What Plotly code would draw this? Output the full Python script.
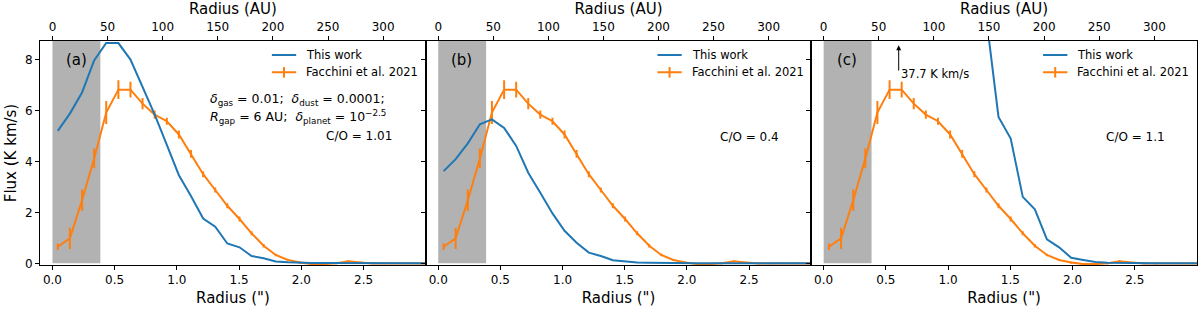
import plotly.graph_objects as go

# ---------------- data ----------------
radius_arcsec = [0.043, 0.140, 0.238, 0.335, 0.432, 0.530, 0.627, 0.724, 0.821, 0.919,
                 1.016, 1.113, 1.211, 1.308, 1.405, 1.503, 1.600, 1.697, 1.794, 1.892,
                 1.989, 2.086, 2.184, 2.281, 2.378, 2.476, 2.573, 2.670, 2.767, 2.865,
                 2.962, 3.059]

facchini_flux = [0.65, 0.98, 2.48, 4.12, 5.92, 6.82, 6.82, 6.27, 5.84, 5.58,
                 5.06, 4.30, 3.50, 2.88, 2.26, 1.74, 1.18, 0.69, 0.33, 0.13,
                 0.03, -0.03, -0.03, 0.00, 0.08, 0.03, -0.01, -0.01, 0.00, 0.00,
                 0.00, 0.00]
facchini_err = [0.13, 0.42, 0.42, 0.39, 0.45, 0.37, 0.31, 0.22, 0.16, 0.14,
                0.16, 0.15, 0.12, 0.10, 0.10, 0.10, 0.08, 0.07, 0.05, 0.04,
                0.04, 0.04, 0.04, 0.04, 0.04, 0.03, 0.03, 0.03, 0.03, 0.03,
                0.03, 0.03]

model_a = [5.20, 5.88, 6.71, 7.97, 8.65, 8.65, 8.00, 6.92, 5.85, 4.65,
           3.46, 2.64, 1.76, 1.44, 0.78, 0.63, 0.29, 0.20, 0.07, 0.04,
           0.02, 0.01, 0.01, 0.01, 0.01, 0.00, 0.00, 0.00, 0.00, 0.00,
           0.00, 0.00]
model_b = [3.62, 4.09, 4.71, 5.46, 5.65, 5.32, 4.61, 3.56, 2.77, 1.96,
           1.28, 0.81, 0.42, 0.29, 0.12, 0.07, 0.03, 0.02, 0.01, 0.01,
           0.01, 0.00, 0.00, 0.00, 0.00, 0.00, 0.00, 0.00, 0.00, 0.00,
           0.00, 0.00]
model_c = [20.5, 24.0, 28.5, 33.0, 36.4, 37.7, 36.9, 34.2, 30.1, 25.3,
           20.2, 15.4, 12.0, 9.6, 5.75, 4.90, 2.61, 2.12, 0.94, 0.63,
           0.22, 0.13, 0.05, 0.02, 0.01, 0.01, 0.00, 0.00, 0.00, 0.00,
           0.00, 0.00]

panel_labels = ["(a)", "(b)", "(c)"]
co_labels = ["C/O = 1.01", "C/O = 0.4", "C/O = 1.1"]
legend_names = ["This work", "Facchini et al. 2021"]
gap_region = [0.0, 0.385]          # shaded inner region (arcsec)
au_per_arcsec = 112.9
x_range = [-0.1, 3.0]
y_range = [-0.065, 8.73]
x_ticks = [0.0, 0.5, 1.0, 1.5, 2.0, 2.5]
au_ticks = [0, 50, 100, 150, 200, 250, 300]
y_ticks = [0, 2, 4, 6, 8]
peak_c = 37.7
peak_c_radius = 0.603

# ---------------- layout geometry ----------------
W, H = 1200, 309
ML, MR, MT, MB = 40.0, 3.3, 40.7, 44.0
plot_w = W - ML - MR
edges_px = [0.0, 385.7, 771.0, plot_w]

BLUE = "#1f77b4"
ORANGE = "#ff7f0e"
FONT = "DejaVu Sans"

fig = go.Figure()
models = [model_a, model_b, model_c]

layout = dict(
    width=W, height=H,
    margin=dict(l=ML, r=MR, t=MT, b=MB, pad=0, autoexpand=False),
    paper_bgcolor="white", plot_bgcolor="white",
    showlegend=False,
    font=dict(family=FONT, size=12, color="black"),
)

shapes = []
annotations = []

for i in range(3):
    n = i + 1
    xs = "" if n == 1 else str(n)
    xtop = str(n + 3)
    dom = [edges_px[i] / plot_w, min(1.0, edges_px[i + 1] / plot_w)]

    fig.add_trace(go.Scatter(
        x=radius_arcsec, y=facchini_flux, mode="lines",
        line=dict(color=ORANGE, width=2),
        error_y=dict(type="data", array=facchini_err, visible=True,
                     color=ORANGE, thickness=2, width=0),
        xaxis="x" + xs, yaxis="y" + xs, hoverinfo="skip"))
    fig.add_trace(go.Scatter(
        x=radius_arcsec, y=models[i], mode="lines",
        line=dict(color=BLUE, width=2),
        xaxis="x" + xs, yaxis="y" + xs, hoverinfo="skip"))
    # dummy trace to activate the AU axis
    fig.add_trace(go.Scatter(x=[au_ticks[0]], y=[None], mode="lines",
                             xaxis="x" + xtop, yaxis="y" + xs, hoverinfo="skip"))

    layout["xaxis" + xs] = dict(
        domain=dom, anchor="y" + xs, range=x_range, automargin=False,
        tickmode="array", tickvals=x_ticks, ticktext=[f"{v:.1f}" for v in x_ticks],
        ticks="outside", ticklen=4, tickwidth=1, tickcolor="black",
        showline=True, linecolor="black", linewidth=1, mirror=True,
        showgrid=False, zeroline=False, tickfont=dict(size=12),
        title=dict(text="Radius (\")", font=dict(size=15), standoff=6),
    )
    layout["xaxis" + xtop] = dict(
        domain=dom, anchor="y" + xs, overlaying="x" + xs, side="top", automargin=False,
        range=[x_range[0] * au_per_arcsec, x_range[1] * au_per_arcsec],
        tickmode="array", tickvals=au_ticks,
        ticks="outside", ticklen=4, tickwidth=1, tickcolor="black",
        showline=False, showgrid=False, zeroline=False, tickfont=dict(size=12),
        title=dict(text="Radius (AU)", font=dict(size=15), standoff=2),
    )
    layout["yaxis" + xs] = dict(
        domain=[0, 1], anchor="x" + xs, range=y_range, automargin=False,
        tickmode="array", tickvals=y_ticks,
        ticks="outside", ticklen=4, tickwidth=1, tickcolor="black",
        showline=True, linecolor="black", linewidth=1, mirror=True,
        showgrid=False, zeroline=False, tickfont=dict(size=12),
        showticklabels=(n == 1),
    )
    if n == 1:
        layout["yaxis"]["title"] = dict(text="Flux (K km/s)", font=dict(size=15), standoff=4)

    # shaded inner region
    shapes.append(dict(type="rect", xref="x" + xs, yref="y" + xs,
                       x0=gap_region[0], x1=gap_region[1], y0=0, y1=y_range[1],
                       fillcolor="#b2b2b2", line=dict(width=0), layer="below"))

    # panel label
    annotations.append(dict(text=panel_labels[i], x=0.19, y=8.0, xref="x" + xs, yref="y" + xs,
                            showarrow=False, font=dict(size=15), xanchor="center", yanchor="middle"))

    # manual legend
    xd = "x" + xs + " domain"
    yd = "y" + xs + " domain"
    shapes.append(dict(type="line", xref=xd, yref=yd, x0=0.601, x1=0.664, y0=0.9376, y1=0.9376,
                       line=dict(color=BLUE, width=2)))
    shapes.append(dict(type="line", xref=xd, yref=yd, x0=0.601, x1=0.664, y0=0.8605, y1=0.8605,
                       line=dict(color=ORANGE, width=2)))
    shapes.append(dict(type="line", xref=xd, yref=yd, x0=0.6325, x1=0.6325, y0=0.8365, y1=0.8837,
                       line=dict(color=ORANGE, width=2)))
    annotations.append(dict(text=legend_names[0], x=0.685, y=0.9376, xref=xd, yref=yd,
                            showarrow=False, xanchor="left", yanchor="middle", font=dict(size=11.5)))
    annotations.append(dict(text=legend_names[1], x=0.685, y=0.8605, xref=xd, yref=yd,
                            showarrow=False, xanchor="left", yanchor="middle", font=dict(size=11.5)))

# parameter text, panel a
annotations.append(dict(text="<i>δ</i><sub>gas</sub> = 0.01;  <i>δ</i><sub>dust</sub> = 0.0001;",
                        x=1.252, y=6.44, xref="x", yref="y", showarrow=False,
                        xanchor="left", yanchor="middle", font=dict(size=12.5)))
annotations.append(dict(text="<i>R</i><sub>gap</sub> = 6 AU;  <i>δ</i><sub>planet</sub> = 10<sup>−2.5</sup>",
                        x=1.252, y=5.74, xref="x", yref="y", showarrow=False,
                        xanchor="left", yanchor="middle", font=dict(size=12.5)))
annotations.append(dict(text=co_labels[0], x=2.747, y=4.99, xref="x", yref="y", showarrow=False,
                        xanchor="right", yanchor="middle", font=dict(size=12)))
annotations.append(dict(text=co_labels[1], x=2.25, y=4.95, xref="x2", yref="y2", showarrow=False,
                        xanchor="left", yanchor="middle", font=dict(size=12)))
annotations.append(dict(text=co_labels[2], x=2.25, y=4.95, xref="x3", yref="y3", showarrow=False,
                        xanchor="left", yanchor="middle", font=dict(size=12)))

# arrow for off-scale peak in panel c
annotations.append(dict(text="", x=peak_c_radius, y=8.56, ax=peak_c_radius, ay=7.51,
                        xref="x3", yref="y3", axref="x3", ayref="y3",
                        showarrow=True, arrowhead=2, arrowsize=1, arrowwidth=1, arrowcolor="black"))
annotations.append(dict(text=f"{peak_c} K km/s", x=peak_c_radius + 0.005, y=7.45,
                        xref="x3", yref="y3", showarrow=False, xanchor="left", yanchor="middle",
                        font=dict(size=11.5)))

layout["shapes"] = shapes
layout["annotations"] = annotations
fig.update_layout(**layout)
fig.write_html("out.html", config={"displayModeBar": False},
               post_script="document.body.style.margin='0';document.body.style.overflow='hidden';")
